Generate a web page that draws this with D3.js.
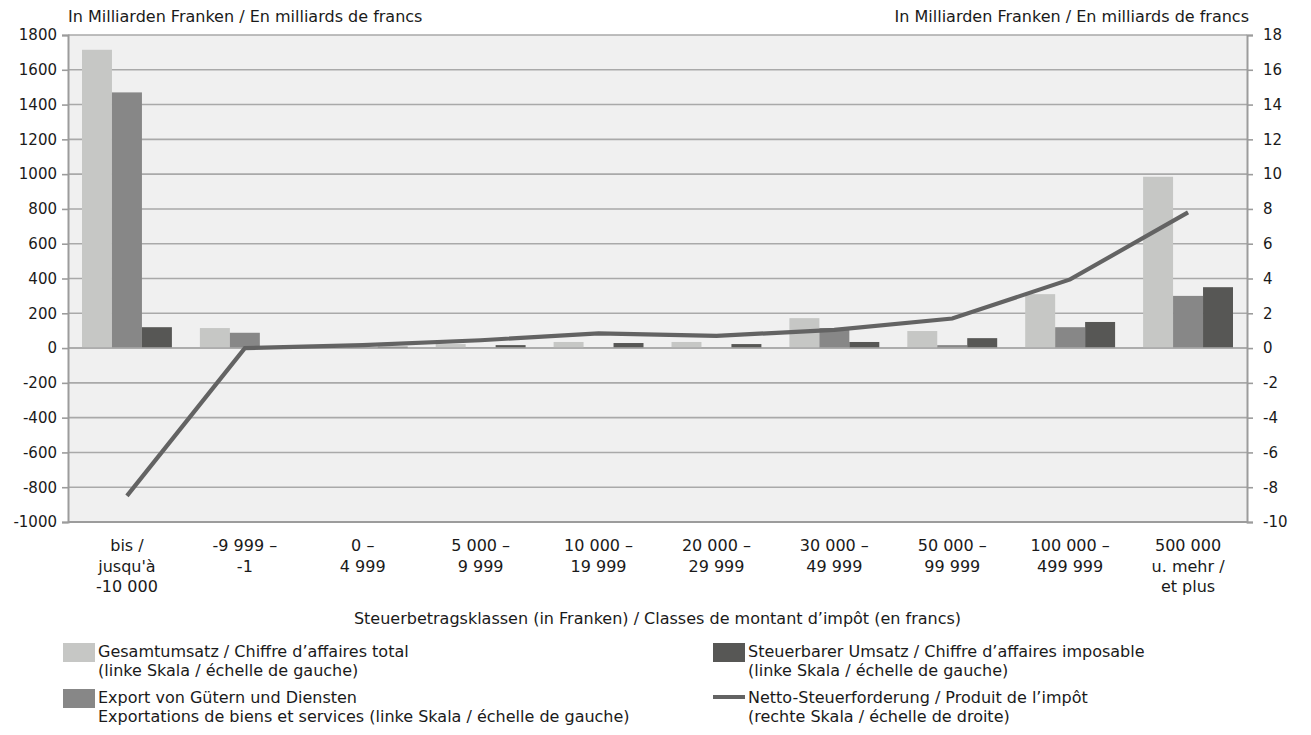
<!DOCTYPE html>
<html>
<head>
<meta charset="utf-8">
<script src="https://cdn.jsdelivr.net/npm/d3@7"></script>
<style>
  html, body { margin: 0; padding: 0; background: #ffffff; }
  svg text { font-family: "DejaVu Sans", sans-serif; fill: #1a1a1a; }
</style>
</head>
<body>
<svg id="chart" width="1311" height="735"></svg>
<script>
// ---- data ----
const categories = [
  ["bis /", "jusqu'à", "-10 000"],
  ["-9 999 –", "-1"],
  ["0 –", "4 999"],
  ["5 000 –", "9 999"],
  ["10 000 –", "19 999"],
  ["20 000 –", "29 999"],
  ["30 000 –", "49 999"],
  ["50 000 –", "99 999"],
  ["100 000 –", "499 999"],
  ["500 000", "u. mehr /", "et plus"]
];
const gesamtumsatz = [1715, 115, 5, 23, 35, 35, 172, 98, 310, 985];
const exportGD    = [1470, 88, 3, 4, 3, 2, 115, 17, 120, 300];
const steuerbar   = [120, 2, 8, 17, 29, 23, 35, 57, 150, 350];
const netto       = [-8.5, 0, 0.17, 0.45, 0.85, 0.7, 1.05, 1.7, 3.95, 7.8];
const leftTicks   = [-1000, -800, -600, -400, -200, 0, 200, 400, 600, 800, 1000, 1200, 1400, 1600, 1800];
const rightTicks  = [-10, -8, -6, -4, -2, 0, 2, 4, 6, 8, 10, 12, 14, 16, 18];
const unitLabel   = "In Milliarden Franken / En milliards de francs";
const xTitle      = "Steuerbetragsklassen (in Franken) / Classes de montant d’impôt (en francs)";
const legendItems = [
  { type: "bar", color: "#c6c7c5", lines: ["Gesamtumsatz / Chiffre d’affaires total", "(linke Skala / échelle de gauche)"] },
  { type: "bar", color: "#878787", lines: ["Export von Gütern und Diensten", "Exportations de biens et services (linke Skala / échelle de gauche)"] },
  { type: "bar", color: "#575755", lines: ["Steuerbarer Umsatz / Chiffre d’affaires imposable", "(linke Skala / échelle de gauche)"] },
  { type: "line", color: "#636363", lines: ["Netto-Steuerforderung / Produit de l’impôt", "(rechte Skala / échelle de droite)"] }
];

// ---- layout ----
const svg = d3.select("#chart");
const L = 68, R = 1247, T = 35, B = 522;
const FS = "16px", TFS = "15px";
const barColors = ["#c6c7c5", "#878787", "#575755"];
const series = [gesamtumsatz, exportGD, steuerbar];
const fmt = d => String(d); // plain hyphen-minus as in the original

const x = d3.scaleBand().domain(d3.range(categories.length)).range([L, R]);
const bw = x.bandwidth();
const x1 = d3.scaleBand().domain([0, 1, 2]).range([14, bw - 14]);
const yL = d3.scaleLinear().domain([-1000, 1800]).range([B, T]);
const yR = d3.scaleLinear().domain([-10, 18]).range([B, T]);

// plot background
svg.append("rect").attr("x", L).attr("y", T).attr("width", R - L).attr("height", B - T).attr("fill", "#f0f0f0");

// gridlines
svg.append("g").selectAll("line").data(leftTicks).join("line")
  .attr("x1", L).attr("x2", R)
  .attr("y1", d => yL(d)).attr("y2", d => yL(d))
  .attr("stroke", "#a9a9a9").attr("stroke-width", 1.6);

// bars
series.forEach((vals, si) => {
  svg.append("g").selectAll("rect").data(vals).join("rect")
    .attr("x", (d, i) => x(i) + x1(si))
    .attr("width", x1.bandwidth())
    .attr("y", d => yL(Math.max(0, d)))
    .attr("height", d => Math.abs(yL(d) - yL(0)))
    .attr("fill", barColors[si]);
});

// zero line re-drawn over bars
svg.append("line").attr("x1", L).attr("x2", R).attr("y1", yL(0)).attr("y2", yL(0))
  .attr("stroke", "#a9a9a9").attr("stroke-width", 1.6);

// axes
const axisColor = "#9c9c9c";
const gL = svg.append("g").attr("transform", `translate(${L},0)`)
  .call(d3.axisLeft(yL).tickValues(leftTicks).tickSize(6).tickPadding(5).tickFormat(fmt));
const gR = svg.append("g").attr("transform", `translate(${R},0)`)
  .call(d3.axisRight(yR).tickValues(rightTicks).tickSize(6).tickPadding(10).tickFormat(fmt));
[gL, gR].forEach(g => {
  g.select(".domain").attr("stroke", axisColor).attr("stroke-width", 2);
  g.selectAll(".tick line").attr("stroke", axisColor).attr("stroke-width", 1.6);
  g.selectAll(".tick text").style("font-size", TFS).style("font-family", '"DejaVu Sans", sans-serif').attr("fill", "#1a1a1a");
});
// bottom axis line
svg.append("line").attr("x1", L).attr("x2", R).attr("y1", B).attr("y2", B)
  .attr("stroke", axisColor).attr("stroke-width", 2);

// line series
const line = d3.line().x((d, i) => x(i) + bw / 2).y(d => yR(d));
svg.append("path").datum(netto).attr("d", line)
  .attr("fill", "none").attr("stroke", "#636363").attr("stroke-width", 4.2).attr("stroke-linejoin", "miter");

// x category labels
const xl = svg.append("g");
categories.forEach((lines, i) => {
  const t = xl.append("text").attr("text-anchor", "middle").style("font-size", FS);
  lines.forEach((ln, j) => {
    t.append("tspan").attr("x", x(i) + bw / 2).attr("y", 551 + j * 20.5).text(ln);
  });
});

// titles
svg.append("text").attr("x", L).attr("y", 22).style("font-size", FS).text(unitLabel);
svg.append("text").attr("x", R + 2).attr("y", 22).attr("text-anchor", "end").style("font-size", FS).text(unitLabel);
svg.append("text").attr("x", (L + R) / 2).attr("y", 624).attr("text-anchor", "middle").style("font-size", FS).text(xTitle);

// legend
const legPos = [[63, 643], [63, 689], [713, 643], [713, 689]];
legendItems.forEach((it, k) => {
  const [lx, ly] = legPos[k];
  if (it.type === "bar") {
    svg.append("rect").attr("x", lx).attr("y", ly).attr("width", 32).attr("height", 19).attr("fill", it.color);
  } else {
    svg.append("line").attr("x1", lx).attr("x2", lx + 32).attr("y1", ly + 8).attr("y2", ly + 8)
      .attr("stroke", it.color).attr("stroke-width", 4);
  }
  const t = svg.append("text").style("font-size", FS);
  it.lines.forEach((ln, j) => {
    t.append("tspan").attr("x", lx + 35).attr("y", ly + 14 + j * 19).text(ln);
  });
});
</script>
</body>
</html>
